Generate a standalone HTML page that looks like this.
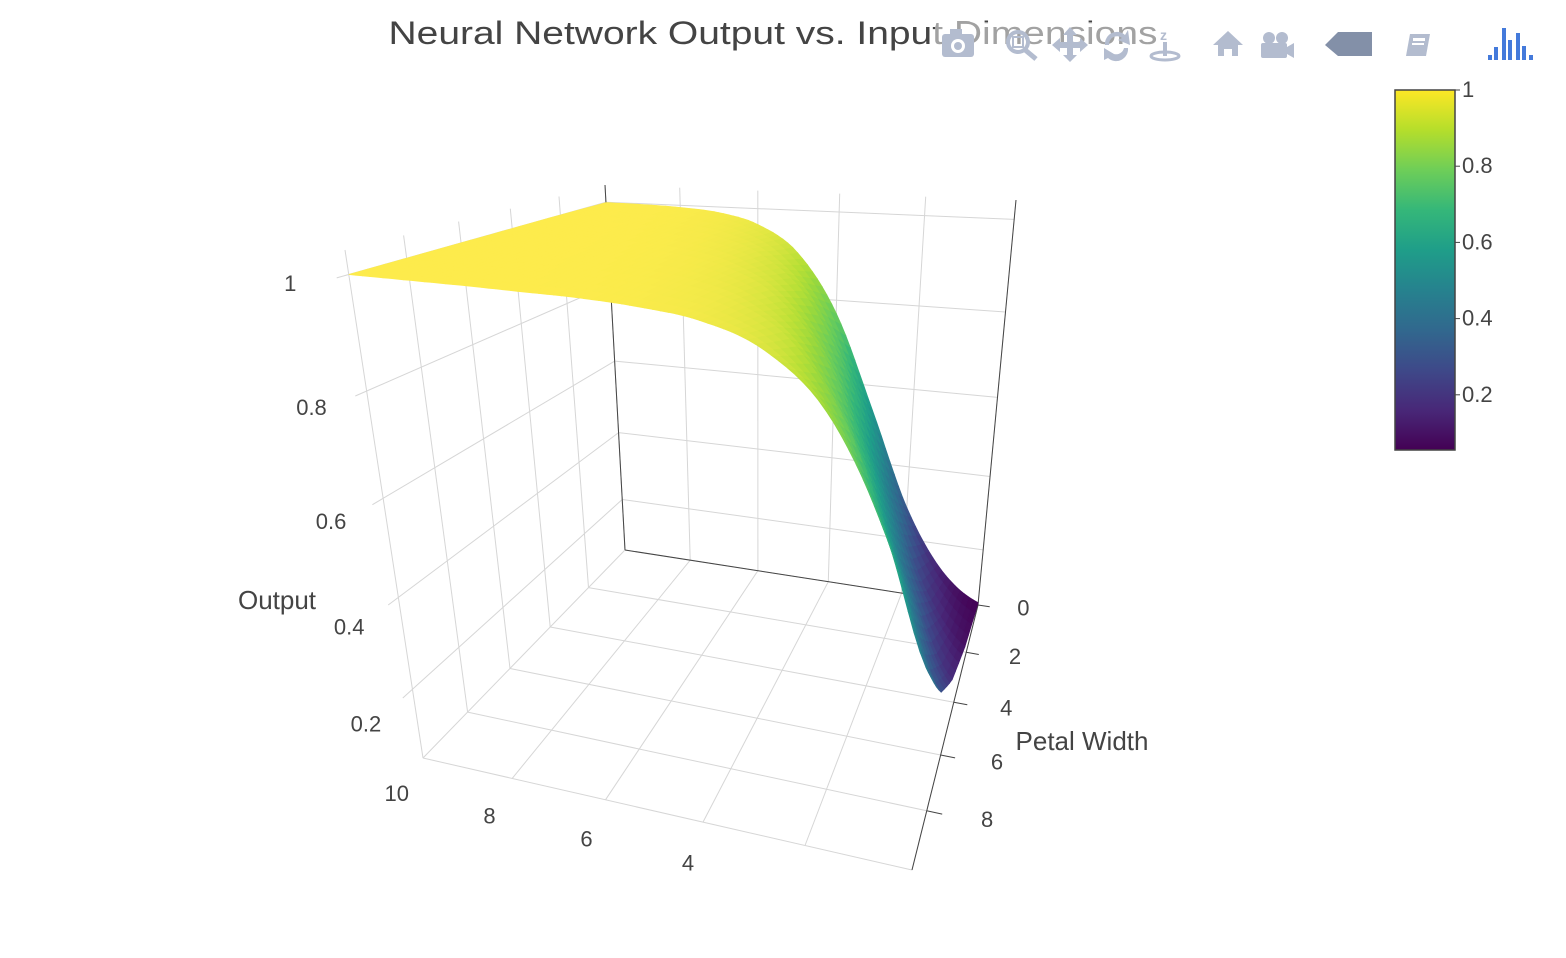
<!DOCTYPE html>
<html><head><meta charset="utf-8">
<style>
html,body{margin:0;padding:0;background:#fff;}
svg{display:block;font-family:"Liberation Sans",sans-serif;}
</style></head>
<body>
<svg id="chart" width="1566" height="958" viewBox="0 0 1566 958" xmlns="http://www.w3.org/2000/svg">
<defs>
<linearGradient id="viridis" x1="0" y1="1" x2="0" y2="0">
<stop offset="0" stop-color="#440154"/><stop offset="0.111" stop-color="#482878"/>
<stop offset="0.222" stop-color="#3e4989"/><stop offset="0.333" stop-color="#31688e"/>
<stop offset="0.444" stop-color="#26828e"/><stop offset="0.556" stop-color="#1f9e89"/>
<stop offset="0.667" stop-color="#35b779"/><stop offset="0.778" stop-color="#6ece58"/>
<stop offset="0.889" stop-color="#b5de2b"/><stop offset="1" stop-color="#fde725"/>
</linearGradient>
<clipPath id="sceneclip"><rect x="0" y="0" width="1566" height="872"/></clipPath>
</defs>
<g clip-path="url(#sceneclip)">
<g id="grid"></g>
<g id="axes"></g>
<g id="surf"></g>
<g id="labels" font-size="22" fill="#444"></g>
</g>
<text x="277" y="609" font-size="26" fill="#444" text-anchor="middle">Output</text>
<text x="1082" y="750" font-size="26" fill="#444" text-anchor="middle">Petal Width</text>
<text x="773" y="44" font-size="32" fill="#444" text-anchor="middle" textLength="769" lengthAdjust="spacingAndGlyphs">Neural Network Output vs. Input Dimensions</text>
<g id="colorbar">
<rect x="1395" y="90" width="60" height="360" fill="url(#viridis)" stroke="#444" stroke-width="1.5"/>
</g>
<g>
<rect x="935" y="22" width="612" height="42" fill="#fff" opacity="0.5"/>
<g fill="#b3bccf">
<g><rect x="942" y="34" width="32" height="23" rx="3"/><rect x="950" y="29" width="12" height="6"/><circle cx="958" cy="46" r="7" fill="#fff"/><circle cx="958" cy="46" r="4"/></g>
<g><circle cx="1018" cy="42" r="10" fill="none" stroke="#b3bccf" stroke-width="4"/><rect x="1013" y="37" width="10" height="10" fill="none" stroke="#b3bccf" stroke-width="2"/><path d="M1024 49 L1036 59" stroke="#b3bccf" stroke-width="5"/></g>
<g><path d="M1070 27 L1077 35 L1073 35 L1073 42 L1080 42 L1080 38 L1088 45 L1080 52 L1080 48 L1073 48 L1073 55 L1077 55 L1070 62 L1063 55 L1067 55 L1067 48 L1060 48 L1060 52 L1052 45 L1060 38 L1060 42 L1067 42 L1067 35 L1063 35 Z"/></g>
<g><path d="M1105 45 A12 12 0 0 1 1125 35 L1128 30 L1130 45 L1118 40 L1122 38 A8 8 0 0 0 1109 45 Z"/><path d="M1128 48 A12 12 0 0 1 1108 58 L1104 60 L1104 48 L1114 54 A8 8 0 0 0 1124 48 Z"/></g>
<g><text x="1160" y="40" font-size="14" font-weight="bold" fill="#b3bccf">z</text><ellipse cx="1165" cy="56" rx="14" ry="4" fill="none" stroke="#b3bccf" stroke-width="3"/><rect x="1163" y="42" width="4" height="14"/></g>
<g><path d="M1228 31 L1243 45 L1238 45 L1238 56 L1232 56 L1232 49 L1224 49 L1224 56 L1218 56 L1218 45 L1213 45 Z"/></g>
<g><circle cx="1269" cy="38" r="6"/><circle cx="1282" cy="38" r="6"/><rect x="1261" y="43" width="26" height="15" rx="2"/><path d="M1287 47 L1294 43 L1294 58 L1287 54 Z"/></g>
<path d="M1325 45 L1338 32 L1372 32 L1372 56 L1338 56 Z" fill="#8390a8"/>
<g><path d="M1410 34 L1430 34 L1426 56 L1406 56 Z"/><rect x="1413" y="38" width="12" height="3" fill="#fff"/><rect x="1412" y="43" width="12" height="2" fill="#fff"/></g>
</g>
<g fill="#447adb"><rect x="1488" y="55" width="4" height="5"/><rect x="1494" y="47" width="4" height="13"/><rect x="1502" y="28" width="4" height="32"/><rect x="1508" y="40" width="4" height="20"/><rect x="1516" y="33" width="4" height="27"/><rect x="1522" y="46" width="4" height="14"/><rect x="1529" y="55" width="4" height="5"/></g>
</g>
</svg>
<script>
// ---- data ----
const xVals = [0,1,2,3,4,5,6,7,8,9,10];
const pwVals = [0,2.5,5,7.5,10];
const zRow0 = [0.047,0.125,0.289,0.537,0.769,0.905,0.964,0.987,0.995,0.998,0.999];
const zRow1 = [0.089,0.219,0.445,0.696,0.868,0.949,0.982,0.993,0.998,0.999,1.0];
const zRow2 = [0.162,0.357,0.613,0.819,0.928,0.974,0.991,0.997,0.999,1.0,1.0];
const zRow3 = [0.277,0.522,0.758,0.899,0.962,0.986,0.995,0.998,0.999,1.0,1.0];
const zRow4 = [0.430,0.684,0.861,0.946,0.981,0.993,0.998,0.999,1.0,1.0,1.0];
const zRows = [zRow0,zRow1,zRow2,zRow3,zRow4];
const xTicks = [10,8,6,4,2,0];
const pwTicks = [0,2,4,6,8];
const zTicks = [0.2,0.4,0.6,0.8,1];
const cbTicks = [0.2,0.4,0.6,0.8,1];
const cbTickLabels = ["0.2","0.4","0.6","0.8","1"];

// ---- scene geometry ----
const X_RANGE=[0,10], PW_RANGE=[0,10], Z_RANGE=[0.04,1.04];
const C = {"000":[978,605],"001":[1016,200],"010":[912,870],"011":[972,306],
           "100":[625,550],"101":[605,185],"110":[423,758],"111":[345,250]};
function depth(u,v,w){return 1+0.12*u+0.15*(1-v)-0.2*w;}
function proj(u,v,w){
  let sx=0,sy=0,sw=0;
  for(let i=0;i<2;i++)for(let j=0;j<2;j++)for(let k=0;k<2;k++){
    const b=(i?u:1-u)*(j?v:1-v)*(k?w:1-w)*depth(i,j,k);
    const c=C[""+i+j+k]; sx+=b*c[0]; sy+=b*c[1]; sw+=b;
  }
  return [sx/sw, sy/sw];
}
const U=x=>(x-X_RANGE[0])/(X_RANGE[1]-X_RANGE[0]);
const V=p=>(p-PW_RANGE[0])/(PW_RANGE[1]-PW_RANGE[0]);
const W=z=>(z-Z_RANGE[0])/(Z_RANGE[1]-Z_RANGE[0]);
const NS="http://www.w3.org/2000/svg";
function line(g,a,b,col,wd,name){
  const l=document.createElementNS(NS,"line");
  
  
  l.setAttribute("x1",a[0].toFixed(1));l.setAttribute("y1",a[1].toFixed(1));
  l.setAttribute("x2",b[0].toFixed(1));l.setAttribute("y2",b[1].toFixed(1));
  l.setAttribute("stroke",col);l.setAttribute("stroke-width",wd);
  g.appendChild(l);
}
function text(g,p,s,anchor,name){
  const t=document.createElementNS(NS,"text");
  
  
  t.setAttribute("x",p[0].toFixed(1));t.setAttribute("y",p[1].toFixed(1));
  t.setAttribute("text-anchor",anchor||"middle");t.textContent=s;g.appendChild(t);
}
const grid=document.getElementById("grid"), axes=document.getElementById("axes"), labels=document.getElementById("labels");
const GC="#d6d6d6";
const xGrid=[0,2,4,6,8,10], pwGrid=[0,2,4,6,8,10];
xGrid.forEach(x=>line(grid,proj(U(x),0,0),proj(U(x),1,0),GC,1,"floor-gridline-x"));
pwGrid.forEach(p=>line(grid,proj(0,V(p),0),proj(1,V(p),0),GC,1,"floor-gridline-pw"));
xGrid.forEach(x=>line(grid,proj(U(x),0,0),proj(U(x),0,1),GC,1,"back-wall-gridline-x"));
zTicks.forEach(z=>line(grid,proj(0,0,W(z)),proj(1,0,W(z)),GC,1,"back-wall-gridline-z"));
pwGrid.forEach(p=>line(grid,proj(1,V(p),0),proj(1,V(p),1),GC,1,"left-wall-gridline-pw"));
zTicks.forEach(z=>line(grid,proj(1,0,W(z)),proj(1,1.04,W(z)),GC,1,"left-wall-gridline-z"));
const AC="#444";
line(axes,proj(1,0,0),proj(1,0,1),AC,1,"z-axis-line");
line(axes,proj(1,0,0),proj(0,0,0),AC,1,"x-axis-back-line");
line(axes,proj(0,0,0),proj(0,0,1),AC,1,"right-vertical-axis-line");
line(axes,proj(0,0,0),proj(0,1,0),AC,1,"petal-width-axis-line");
pwTicks.forEach(p=>line(axes,proj(0,V(p),0),proj(-0.03,V(p),0),AC,1,"petal-width-tick"));
zTicks.forEach(z=>text(labels,proj(1,1.19,W(z)),String(z),"middle","z-tick-label"));
xTicks.forEach(x=>{const p=proj(U(x),1.13,0);text(labels,[p[0]+4,p[1]+12],String(x),"middle","x-tick-label");});
pwTicks.forEach(pw=>{const p=proj(-0.12,V(pw),0);text(labels,[p[0]-2,p[1]+3],String(pw),"middle","petal-width-tick-label");});

// colour scale
const VIR=[[0,[68,1,84]],[0.111,[72,40,120]],[0.222,[62,73,137]],[0.333,[49,104,142]],[0.444,[38,130,142]],[0.556,[31,158,137]],[0.667,[53,183,121]],[0.778,[110,206,88]],[0.889,[181,222,43]],[1,[253,231,37]]];
const CMIN=0.047,CMAX=1.0;
function color(z,shade){
  let t=Math.max(0,Math.min(1,(z-CMIN)/(CMAX-CMIN)));
  let c=[253,231,37];
  for(let i=1;i<VIR.length;i++){ if(t<=VIR[i][0]){
    const a=VIR[i-1],b=VIR[i],f=(t-a[0])/(b[0]-a[0]);
    c=a[1].map((v,k)=>v+(b[1][k]-v)*f); break;}}
  c=c.map(v=>Math.round(Math.min(255,v+(255-v)*shade)));
  return "rgb("+c.join(",")+")";
}
// smooth (Catmull-Rom) interpolation along x of a row, linear across pw
function rowAt(row,xf){
  const n=row.length-1; let i=Math.min(n-1,Math.max(0,Math.floor(xf))); const t=xf-i;
  const p0=row[Math.max(0,i-1)],p1=row[i],p2=row[i+1],p3=row[Math.min(n,i+2)];
  const v=0.5*((2*p1)+(-p0+p2)*t+(2*p0-5*p1+4*p2-p3)*t*t+(-p0+3*p1-3*p2+p3)*t*t*t);
  return Math.min(1,v);
}
function zAtF(xf,pf){
  const n=zRows.length-1; let j=Math.min(n-1,Math.floor(pf)); const t=pf-j;
  return rowAt(zRows[j],xf)*(1-t)+rowAt(zRows[j+1],xf)*t;
}
const surf=document.getElementById("surf");
const NXS=80, NPS=16, quads=[];
const nx=xVals.length-1, np=pwVals.length-1;
for(let a=0;a<NXS;a++)for(let b=0;b<NPS;b++){
  const pts=[]; let zs=0,ds=0;
  [[a,b],[a+1,b],[a+1,b+1],[a,b+1]].forEach(([ca,cb])=>{
    const xf=ca/NXS*nx, pf=cb/NPS*np;
    const x=X_RANGE[0]+(xVals[nx]-xVals[0])*ca/NXS, p=pwVals[0]+(pwVals[np]-pwVals[0])*cb/NPS;
    const z=zAtF(xf,pf); zs+=z;
    ds+=depth(U(x),V(p),W(z));
    pts.push(proj(U(x),V(p),W(z)));
  });
  quads.push({pts,z:zs/4,d:ds/4});
}
quads.sort((q1,q2)=>q2.d-q1.d);
quads.forEach(q=>{
  const pg=document.createElementNS(NS,"polygon");
  
  
  pg.setAttribute("points",q.pts.map(p=>p[0].toFixed(1)+","+p[1].toFixed(1)).join(" "));
  const c=color(q.z, q.z>0.85?0.18*(q.z-0.85)/0.15:0); pg.setAttribute("fill",c); pg.setAttribute("stroke",c); pg.setAttribute("stroke-width","0.8");
  surf.appendChild(pg);
});
const cb=document.getElementById("colorbar");
const CB_TOP=90,CB_BOT=450,CB_MIN=0.055,CB_MAX=1.0;
cbTicks.forEach((v,k)=>{
  const y=CB_BOT-(v-CB_MIN)/(CB_MAX-CB_MIN)*(CB_BOT-CB_TOP);
  line(cb,[1455,y],[1460,y],"#444",1,"colorbar-tick");
  const t=document.createElementNS(NS,"text");
  
  
  t.setAttribute("x","1462");t.setAttribute("y",(y+7).toFixed(1));
  t.setAttribute("font-size","22");t.setAttribute("fill","#444");
  t.textContent=cbTickLabels[k]; cb.appendChild(t);
});
</script>
</body></html>
